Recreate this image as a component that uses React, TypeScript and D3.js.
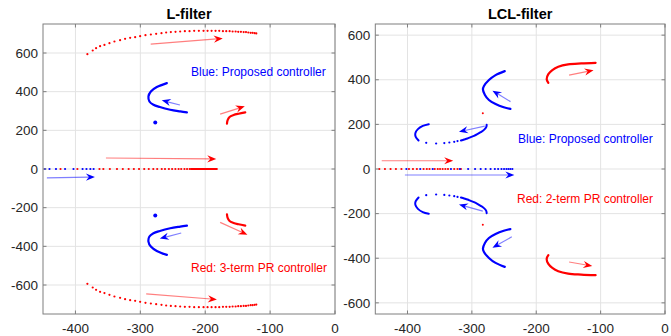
import React from "react";
import * as d3 from "d3";

type P = [number, number];

const xTicks = [-400, -300, -200, -100, 0];
const yTicks = [-600, -400, -200, 0, 200, 400, 600];

// ---------- L-filter ----------
const lRedLocusDots: P[] = [
  [-381.6, 594], [-373.4, 613], [-368.2, 625], [-362, 635.5], [-355.3, 642], [-347.6, 651],
  [-339.9, 659.6], [-331.2, 666.5], [-323.5, 673.4], [-315.7, 678.6], [-308, 682], [-300.3, 687],
  [-292.1, 692.4], [-283.8, 695.8], [-275.6, 699.2], [-267.4, 702.7], [-260.2, 706], [-253, 708],
  [-245.8, 709.6], [-238.6, 711.3], [-231.4, 713], [-224.2, 713], [-217, 714.7], [-209.8, 714.7],
  [-202.6, 714.7], [-196.4, 714.7], [-190.2, 714.7], [-184.1, 714.7], [-178.4, 714.7], [-172.7, 713],
  [-167.6, 713], [-162.4, 713], [-157.8, 711.3], [-153.2, 711.3], [-149.1, 709.6], [-145, 709.6],
  [-140.8, 708], [-137.2, 708], [-133.6, 706], [-130, 704.3], [-127, 704.3], [-123.9, 702.7], [-121.3, 701],
];
const lBlueAxisDots: P[] = [
  [-447, 0], [-440, 0], [-430, 0], [-416, 0], [-403, 0], [-389, 0], [-383, 0], [-377, 0], [-372, 0],
];
const lRedAxisDots: P[] = [
  [-423, 0], [-397, 0], [-363, 0], [-357, 0], [-347, 0], [-336, 0], [-327, 0], [-318, 0], [-310, 0],
  [-302, 0], [-294, 0], [-287, 0], [-280, 0], [-274, 0], [-267, 0], [-262, 0], [-256, 0], [-251, 0],
  [-246, 0], [-241, 0], [-237, 0], [-232, 0], [-228, 0], [-224, 0],
];
const lRedAxisDense: P[] = [[-222, 0], [-182, 0]];
const lBlueBranch: P[] = [
  [-259.1, 444.4], [-274.6, 423.8], [-283.8, 401], [-287.5, 375.2], [-286, 349.4], [-279.8, 332.3],
  [-269.9, 320.4], [-254, 306.5], [-238.6, 297.7], [-228.2, 292.5],
];
const lRedBranch: P[] = [
  [-166.5, 234], [-165.6, 251], [-162.5, 268.7], [-156.3, 279], [-148.6, 285.8], [-138.3, 292.5],
];
const lBlueCluster: P[] = [[-277, 241]];

const lArrows: { from: P; to: P; c: string }[] = [
  { from: [-353, 57], to: [-183, 52], c: "red" },
  { from: [-444, -46], to: [-370, -41], c: "blue" },
  { from: [-284, 646], to: [-173, 675], c: "red" },
  { from: [-291, -646], to: [-182, -675], c: "red" },
  { from: [-239, 331], to: [-267, 355], c: "blue" },
  { from: [-237, -331], to: [-270, -360], c: "blue" },
  { from: [-177, 284], to: [-139, 324], c: "red" },
  { from: [-177, -276], to: [-135, -340], c: "red" },
];

// ---------- LCL-filter ----------
const rRedAxisDots: P[] = [
  [-443.8, 0], [-435, 0], [-426.3, 0], [-418, 0], [-409.4, 0], [-397.7, 0], [-391.5, 0], [-385.4, 0],
  [-375, 0], [-370, 0], [-365.8, 0], [-357.7, 0], [-353, 0], [-349.4, 0], [-345.4, 0], [-341.2, 0],
  [-337.1, 0], [-327.4, 0], [-322.3, 0], [-317, 0],
];
const rBlueAxisDots: P[] = [
  [-401.7, 0], [-380.2, 0], [-360.8, 0], [-332.5, 0], [-318.6, 0], [-305.8, 0], [-295, 0], [-286.3, 0],
  [-278.6, 0], [-270.9, 0], [-264.3, 0], [-259.2, 0], [-254, 0], [-250, 0], [-246.3, 0], [-243.2, 0],
  [-240.2, 0], [-237.1, 0],
];
const rBlueBranch: P[] = [
  [-248.9, 438.8], [-263.2, 421], [-273.5, 398.7], [-281.2, 371.9], [-282.8, 357], [-279.7, 331.7],
  [-273.5, 309.4], [-263.2, 291.5], [-250.5, 276.8], [-240.2, 269.2],
];
const rRedBranch: P[] = [
  [-181.2, 386.6], [-183.8, 403], [-181.2, 425.4], [-175, 443.3], [-165.8, 458], [-150.5, 468.8],
  [-130, 473.2], [-107.8, 475.9],
];
const rRedDot: P[] = [[-283, 250]];
const rLoopArcA: P[] = [
  [-366.9, 200.9], [-376.2, 193.3], [-383.8, 178.6], [-387.8, 160.7], [-387.4, 145.5], [-382.8, 127.7],
];
const rLoopDots: P[] = [
  [-370.9, 117.4], [-355.5, 114.3], [-342.8, 116], [-335, 118.8], [-327.4, 121.9], [-322.3, 125],
];
const rLoopArcB: P[] = [
  [-317, 127.7], [-312, 132], [-306.9, 136.6], [-301.7, 142.9], [-296.6, 148.7], [-291.5, 156],
  [-286.3, 165], [-281.2, 175.4], [-277.7, 187.5], [-277, 198],
];

const rArrows: { from: P; to: P; c: string }[] = [
  { from: [-440, 37], to: [-329, 37], c: "red" },
  { from: [-404, -27], to: [-234, -27], c: "blue" },
  { from: [-149, 421], to: [-111, 443], c: "red" },
  { from: [-149, -417], to: [-113, -435], c: "red" },
  { from: [-240, 302], to: [-268, 351], c: "blue" },
  { from: [-238, -304], to: [-268, -353], c: "blue" },
  { from: [-280, 192], to: [-320, 167], c: "blue" },
  { from: [-283, -189], to: [-320, -159], c: "blue" },
];

const conj = (pts: P[]): P[] => pts.map(([x, y]) => [x, -y] as P);

const FONT = "'Liberation Sans', Arial, Helvetica, sans-serif";
const BLUE = "#0000ff";
const RED = "#ff0000";

type Series =
  | { kind: "dots"; pts: P[]; color: string; r?: number }
  | { kind: "line"; pts: P[]; color: string; w?: number };

interface PanelProps {
  x0: number; x1: number; y0: number; y1: number;
  yDomain: [number, number];
  title: string;
  series: Series[];
  arrows: { from: P; to: P; c: string }[];
  labels: { text: string; x: number; y: number; color: string }[];
}

function Panel(p: PanelProps) {
  const xs = d3.scaleLinear().domain([-450, 0]).range([p.x0, p.x1]);
  const ys = d3.scaleLinear().domain(p.yDomain).range([p.y1, p.y0]);
  const line = d3.line<P>().x((d) => xs(d[0])).y((d) => ys(d[1])).curve(d3.curveCatmullRom);
  const tl = 3.5;
  const boxC = "#7f7f7f";
  return (
    <g>
      {/* grid */}
      {xTicks.map((t) => (
        <line key={"gx" + t} x1={xs(t)} x2={xs(t)} y1={p.y0} y2={p.y1} stroke="#e3e3e3" strokeWidth={1} />
      ))}
      {yTicks.map((t) => (
        <line key={"gy" + t} x1={p.x0} x2={p.x1} y1={ys(t)} y2={ys(t)} stroke="#e3e3e3" strokeWidth={1} />
      ))}
      {/* series */}
      {p.series.map((s, i) =>
        s.kind === "dots" ? (
          <g key={i}>
            {s.pts.map((d, j) => (
              <circle key={j} cx={xs(d[0])} cy={ys(d[1])} r={s.r ?? 1.1} fill={s.color} />
            ))}
          </g>
        ) : (
          <path key={i} d={line(s.pts) || ""} fill="none" stroke={s.color} strokeWidth={s.w ?? 2} strokeLinecap="round" />
        )
      )}
      {/* arrows */}
      {p.arrows.map((a, i) => {
        const ax = xs(a.from[0]), ay = ys(a.from[1]);
        const bx = xs(a.to[0]), by = ys(a.to[1]);
        const len = Math.hypot(bx - ax, by - ay);
        const ux = (bx - ax) / len, uy = (by - ay) / len;
        const nx = -uy, ny = ux;
        const L = 9, w = 3.6, notch = 3;
        const head = [
          [bx, by],
          [bx - L * ux + w * nx, by - L * uy + w * ny],
          [bx - (L - notch) * ux, by - (L - notch) * uy],
          [bx - L * ux - w * nx, by - L * uy - w * ny],
        ];
        const col = a.c === "red" ? RED : BLUE;
        return (
          <g key={"a" + i}>
            <line x1={ax} y1={ay} x2={bx - (L - notch) * ux} y2={by - (L - notch) * uy} stroke={col} strokeOpacity={0.5} strokeWidth={1.2} />
            <path d={"M" + head.map((q) => q.join(",")).join("L") + "Z"} fill={col} />
          </g>
        );
      })}
      {/* labels */}
      {p.labels.map((l, i) => (
        <text key={"l" + i} x={l.x} y={l.y} fill={l.color} fontFamily={FONT} fontSize={12}>
          {l.text}
        </text>
      ))}
      {/* box */}
      <rect x={p.x0} y={p.y0} width={p.x1 - p.x0} height={p.y1 - p.y0} fill="none" stroke={boxC} strokeWidth={1} />
      {/* ticks */}
      {xTicks.map((t) => (
        <g key={"tx" + t}>
          <line x1={xs(t)} x2={xs(t)} y1={p.y1} y2={p.y1 - tl} stroke={boxC} />
          <line x1={xs(t)} x2={xs(t)} y1={p.y0} y2={p.y0 + tl} stroke={boxC} />
          <text x={xs(t)} y={p.y1 + 19} textAnchor="middle" fontFamily={FONT} fontSize={13.5} fill="#262626">
            {t}
          </text>
        </g>
      ))}
      {yTicks.map((t) => (
        <g key={"ty" + t}>
          <line x1={p.x0} x2={p.x0 + tl} y1={ys(t)} y2={ys(t)} stroke={boxC} />
          <line x1={p.x1} x2={p.x1 - tl} y1={ys(t)} y2={ys(t)} stroke={boxC} />
          <text x={p.x0 - 5} y={ys(t)} dy="0.35em" textAnchor="end" fontFamily={FONT} fontSize={13.5} fill="#262626">
            {t}
          </text>
        </g>
      ))}
      <text x={(p.x0 + p.x1) / 2} y={p.y0 - 5} textAnchor="middle" fontFamily={FONT} fontSize={14.5} fontWeight="bold" fill="#000">
        {p.title}
      </text>
    </g>
  );
}

export default function App() {
  const left: PanelProps = {
    x0: 43, x1: 335, y0: 24, y1: 314,
    yDomain: [-750, 750],
    title: "L-filter",
    series: [
      { kind: "dots", pts: lRedLocusDots, color: RED },
      { kind: "dots", pts: conj(lRedLocusDots), color: RED },
      { kind: "dots", pts: lRedAxisDots, color: RED },
      { kind: "line", pts: lRedAxisDense, color: RED, w: 2 },
      { kind: "dots", pts: lBlueAxisDots, color: BLUE },
      { kind: "line", pts: lBlueBranch, color: BLUE, w: 2.2 },
      { kind: "line", pts: conj(lBlueBranch), color: BLUE, w: 2.2 },
      { kind: "line", pts: lRedBranch, color: RED, w: 2.2 },
      { kind: "line", pts: conj(lRedBranch), color: RED, w: 2.2 },
      { kind: "dots", pts: lBlueCluster, color: BLUE, r: 2 },
      { kind: "dots", pts: conj(lBlueCluster), color: BLUE, r: 2 },
    ],
    arrows: lArrows,
    labels: [
      { text: "Blue: Proposed controller", x: 191, y: 76, color: BLUE },
      { text: "Red: 3-term PR controller", x: 191, y: 272, color: RED },
    ],
  };
  const right: PanelProps = {
    x0: 375.3, x1: 665, y0: 24, y1: 314,
    yDomain: [-650, 650],
    title: "LCL-filter",
    series: [
      { kind: "dots", pts: rRedAxisDots, color: RED },
      { kind: "dots", pts: rBlueAxisDots, color: BLUE },
      { kind: "line", pts: rBlueBranch, color: BLUE, w: 2.2 },
      { kind: "line", pts: conj(rBlueBranch), color: BLUE, w: 2.2 },
      { kind: "line", pts: rRedBranch, color: RED, w: 2.2 },
      { kind: "line", pts: conj(rRedBranch), color: RED, w: 2.2 },
      { kind: "dots", pts: rRedDot, color: RED, r: 1 },
      { kind: "dots", pts: conj(rRedDot), color: RED, r: 1 },
      { kind: "line", pts: rLoopArcA, color: BLUE, w: 2 },
      { kind: "line", pts: conj(rLoopArcA), color: BLUE, w: 2 },
      { kind: "dots", pts: rLoopDots, color: BLUE },
      { kind: "dots", pts: conj(rLoopDots), color: BLUE },
      { kind: "line", pts: rLoopArcB, color: BLUE, w: 2 },
      { kind: "line", pts: conj(rLoopArcB), color: BLUE, w: 2 },
    ],
    arrows: rArrows,
    labels: [
      { text: "Blue: Proposed controller", x: 518, y: 143, color: BLUE },
      { text: "Red: 2-term PR controller", x: 517, y: 203, color: RED },
    ],
  };
  return (
    <svg width={671} height={336} style={{ position: "absolute", left: 0, top: 0, background: "#fff" }}>
      <rect width={671} height={336} fill="#fff" />
      <Panel {...left} />
      <Panel {...right} />
    </svg>
  );
}
